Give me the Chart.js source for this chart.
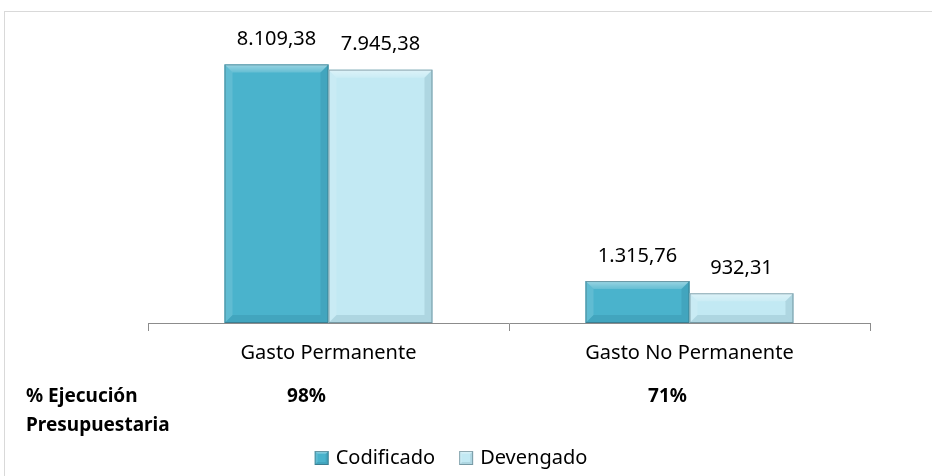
<!DOCTYPE html>
<html>
<head>
<meta charset="utf-8">
<script src="https://cdn.jsdelivr.net/npm/chart.js@4"></script>
<style>
  html, body { margin: 0; padding: 0; background: #ffffff; }
  #wrap {
    position: absolute; left: 4px; top: 11px; width: 927px; height: 464px;
    border: 1px solid #d9d9d9; background: #ffffff;
  }
  canvas { display: block; }
</style>
</head>
<body>
<div id="wrap"><canvas id="chart" width="927" height="464"></canvas></div>
<script>
// ---- data ----
const categories   = ['Gasto Permanente', 'Gasto No Permanente'];
const codificado   = [8109.38, 1315.76];
const devengado    = [7945.38, 932.31];
const ejecucion    = ['98%', '71%'];
const rowTitle     = ['% Ejecución', 'Presupuestaria'];
const seriesNames  = ['Codificado', 'Devengado'];
const seriesColors = ['#4ab3cc', '#c2e9f3'];

const FONT = '"Noto Sans", "Open Sans", sans-serif';
const fmt = v => v.toLocaleString('de-DE', { minimumFractionDigits: 2, maximumFractionDigits: 2 });

// bevelled rectangle, used for bars and legend markers
function bevelRect(ctx, l, t, r, b, color, s) {
  ctx.fillStyle = color;
  ctx.fillRect(l, t, r - l, b - t);
  const poly = (pts, fill) => {
    ctx.fillStyle = fill;
    ctx.beginPath();
    pts.forEach((p, k) => k ? ctx.lineTo(p[0], p[1]) : ctx.moveTo(p[0], p[1]));
    ctx.closePath(); ctx.fill();
  };
  const g = ctx.createLinearGradient(0, t, 0, t + s);
  g.addColorStop(0, 'rgba(255,255,255,0.45)');
  g.addColorStop(1, 'rgba(255,255,255,0.15)');
  poly([[l, t], [r, t], [r - s, t + s], [l + s, t + s]], g);
  poly([[l, t], [l + s, t + s], [l + s, b - s], [l, b]], 'rgba(255,255,255,0.12)');
  poly([[r, t], [r, b], [r - s, b - s], [r - s, t + s]], 'rgba(0,50,70,0.10)');
  poly([[l, b], [r, b], [r - s, b - s], [l + s, b - s]], 'rgba(0,50,70,0.10)');
  ctx.strokeStyle = 'rgba(50,80,90,0.45)';
  ctx.lineWidth = 1;
  ctx.strokeRect(l + 0.5, t + 0.5, r - l - 1, b - t - 1);
}

const bevelPlugin = {
  id: 'bevel',
  afterDatasetsDraw(chart) {
    const ctx = chart.ctx;
    chart.data.datasets.forEach((ds, di) => {
      chart.getDatasetMeta(di).data.forEach((bar, i) => {
        const { x, y, base, width } = bar.getProps(['x', 'y', 'base', 'width'], true);
        ctx.save();
        bevelRect(ctx, x - width / 2, y, x + width / 2, base, ds.backgroundColor, Math.min(8, (base - y) / 2));
        ctx.fillStyle = '#000';
        ctx.font = '20px ' + FONT;
        ctx.textAlign = 'center';
        ctx.textBaseline = 'middle';
        ctx.fillText(fmt(ds.data[i]), x, y - 25);
        ctx.restore();
      });
    });
  },
  afterDraw(chart) {
    const ctx = chart.ctx;
    const xs = chart.scales.x;
    ctx.save();
    // execution row
    ctx.fillStyle = '#000';
    ctx.font = 'bold 19px ' + FONT;
    ctx.textBaseline = 'middle';
    ctx.textAlign = 'left';
    ctx.fillText(rowTitle[0], 21, 385);
    ctx.fillText(rowTitle[1], 21, 414);
    ctx.textAlign = 'center';
    ejecucion.forEach((p, i) => ctx.fillText(p, xs.getPixelForValue(i) - 22, 385));
    // legend
    ctx.font = '20px ' + FONT;
    ctx.textAlign = 'left';
    const box = 14, gap = 7, between = 24;
    const widths = seriesNames.map(n => box + gap + ctx.measureText(n).width);
    const total = widths.reduce((a, b) => a + b, 0) + between;
    let lx = 446 - total / 2;
    const ly = 446;
    seriesNames.forEach((n, i) => {
      bevelRect(ctx, lx, ly - box / 2, lx + box, ly + box / 2, seriesColors[i], 3);
      ctx.fillStyle = '#000';
      ctx.fillText(n, lx + box + gap, ly);
      lx += widths[i] + between;
    });
    ctx.restore();
  }
};

new Chart(document.getElementById('chart'), {
  type: 'bar',
  data: {
    labels: categories,
    datasets: seriesNames.map((n, i) => ({
      label: n,
      data: i === 0 ? codificado : devengado,
      backgroundColor: seriesColors[i],
      borderWidth: 0
    }))
  },
  options: {
    responsive: false,
    animation: false,
    layout: { padding: { left: 143, right: 62, top: 24, bottom: 0 } },
    datasets: { bar: { barPercentage: 1, categoryPercentage: 0.576 } },
    plugins: {
      tooltip: { enabled: false },
      legend: { display: false }
    },
    scales: {
      y: { display: false, min: 0, max: 9000 },
      x: {
        afterFit: s => { s.height = 153; },
        border: { color: '#8c8c8c', width: 1 },
        grid: { drawOnChartArea: false, color: '#8c8c8c', tickLength: 8, offset: true },
        ticks: { color: '#000', font: { family: FONT, size: 20 }, padding: 10 }
      }
    }
  },
  plugins: [bevelPlugin]
});
</script>
</body>
</html>
